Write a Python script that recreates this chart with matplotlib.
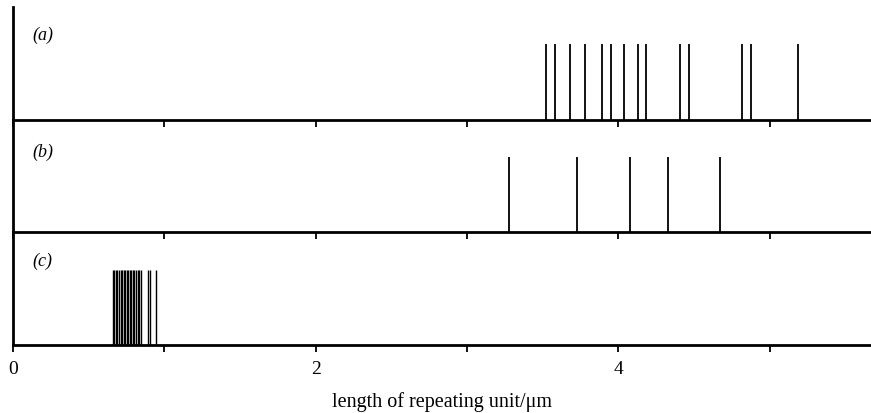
"""Repeating-unit length spectra, three stacked panels."""

import matplotlib
matplotlib.use("Agg")
import matplotlib.pyplot as plt

# positions of the lines (length of repeating unit, um)
lengths_a = [3.52, 3.58, 3.68, 3.78, 3.89, 3.95, 4.04, 4.13, 4.18,
             4.41, 4.47, 4.82, 4.88, 5.19]
lengths_b = [3.28, 3.73, 4.08, 4.33, 4.67]
lengths_c = [0.659, 0.668, 0.679, 0.689, 0.701, 0.712, 0.722, 0.734,
             0.742, 0.751, 0.762, 0.771, 0.780, 0.791, 0.802, 0.813,
             0.824, 0.835, 0.844, 0.894, 0.905, 0.945]
panel_labels = ["(a)", "(b)", "(c)"]
tick_values = [0, 1, 2, 3, 4, 5]
tick_labels = ["0", "", "2", "", "4", ""]

plt.rcParams["font.family"] = ["Liberation Serif", "DejaVu Serif"]

fig = plt.figure(figsize=(8.71, 4.14), dpi=100)
gs = fig.add_gridspec(3, 1, left=0.015, right=1.0, top=0.981, bottom=0.164,
                      hspace=0.0)

panels = [lengths_a, lengths_b, lengths_c]
label_y = [0.76, 0.72, 0.75]
widths = [1.3, 1.3, 1.0]

axes = []
for k, (vals, lab) in enumerate(zip(panels, panel_labels)):
    ax = fig.add_subplot(gs[k])
    axes.append(ax)
    ax.patch.set_visible(False)  # keep spines/ticks of the panel above visible
    ax.vlines(vals, 0, 1.0, color="black", linewidth=widths[k])
    ax.set_xlim(0, 5.67)
    ax.set_ylim(0, 1.5)
    for side in ("top", "right"):
        ax.spines[side].set_visible(False)
    ax.spines["bottom"].set_linewidth(2.0)
    ax.spines["left"].set_linewidth(2.0)
    ax.set_yticks([])
    ax.set_xticks(tick_values)
    ax.tick_params(axis="x", direction="out", length=5, width=1.3,
                   labelsize=14, pad=6)
    if k < 2:
        ax.set_xticklabels([])
    else:
        ax.set_xticklabels(tick_labels)
    ax.text(0.023, label_y[k], lab, transform=ax.transAxes, ha="left",
            va="center", fontsize=13, style="italic")

axes[-1].set_xlabel("length of repeating unit/\u03bcm", fontsize=14.5,
                    labelpad=10)

fig.savefig("out.png", dpi=100, facecolor="white")
